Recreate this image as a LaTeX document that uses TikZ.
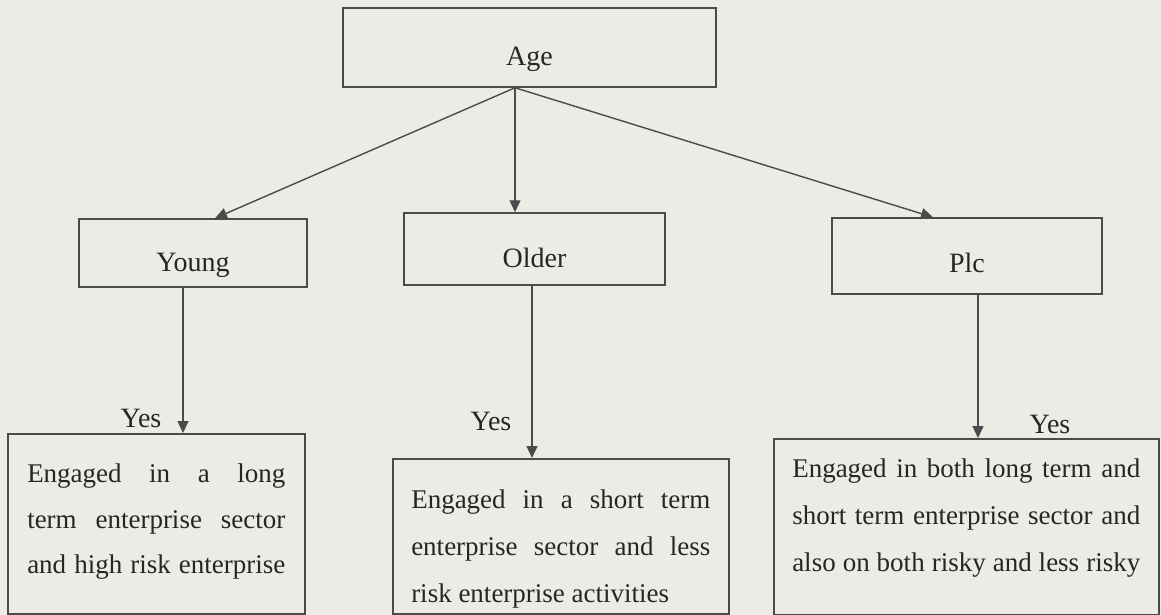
\documentclass[tikz,border=0pt]{standalone}
\usepackage{xcolor}
\usepackage{fontspec}
\setmainfont{Liberation Serif}
\usepackage{tikz}
\usetikzlibrary{arrows.meta,positioning}

\definecolor{paper}{RGB}{236,235,230}
\definecolor{ink}{RGB}{72,76,76}
\definecolor{txt}{RGB}{38,38,38}

% one justified line of a result box
\newcommand{\jline}[1]{\makebox[\linewidth][s]{#1}}

\begin{document}
\begin{tikzpicture}[
  x=1pt, y=-1pt,
  group/.style={
    rectangle,
    draw=ink,
    fill=paper,
    line width=1.5pt,
    inner sep=0pt,
    text=txt,
    text height=36pt,
    text depth=0pt,
    font=\fontsize{28}{33}\selectfont
  },
  result/.style={
    rectangle,
    draw=ink,
    fill=paper,
    line width=1.5pt,
    inner sep=0pt,
    anchor=north west,
    text=txt,
    font=\fontsize{27}{47}\selectfont
  },
  yes/.style={
    anchor=base,
    inner sep=0pt,
    text=txt,
    font=\fontsize{28}{33}\selectfont
  },
  arr/.style={
    draw=ink,
    line width=1.4pt,
    -{Triangle[length=12pt,width=11pt]}
  }
]

% --- PAGE ---
\fill[paper] (0,0) rectangle (1161,615);
\useasboundingbox (0,0) rectangle (1161,615);

% --- AGE (Top) ---
\node[group, minimum width=373pt, minimum height=79pt] (age) at (529.5,47.5) {Age};
\coordinate (fork) at ([xshift=-14.5pt]age.south);

% --- AGE GROUPS (Middle row) ---
\node[group, minimum width=228pt, minimum height=68pt] (young) at (193,253) {Young};
\node[group, minimum width=261pt, minimum height=72pt] (older) at (534.5,249) {Older};
\node[group, minimum width=270pt, minimum height=76pt, text height=32pt] (plc) at (967,256) {Plc};

\draw[arr] (fork) -- ([xshift=22pt]young.north);
\draw[arr] (fork) -- ([xshift=-19.5pt]older.north);
\draw[arr] (fork) -- ([xshift=-34pt]plc.north);

% --- RESULTS (Bottom row) ---
\node[result, minimum width=297pt, text height=49pt, text depth=131pt,
      font=\fontsize{27}{45.5}\selectfont] (res_young) at (7,433) {%
    \parbox[t]{258pt}{%
      \jline{Engaged in a long}\\
      \jline{term enterprise sector}\\
      \jline{and high risk enterprise}}};

\node[result, minimum width=336pt, text height=50pt, text depth=105pt] (res_older) at (392,458) {%
    \parbox[t]{299pt}{%
      \jline{Engaged in a short term}\\
      \jline{enterprise sector and less}\\
      risk enterprise activities}};

\node[result, minimum width=385pt, text height=39pt, text depth=137pt] (res_plc) at (773,438) {%
    \parbox[t]{348pt}{%
      \jline{Engaged in both long term and}\\
      \jline{short term enterprise sector and}\\
      \jline{also on both risky and less risky}}};

% --- LINKS ---
\draw[arr] ([xshift=-10pt]young.south) coordinate (ys) -- (ys |- res_young.north);
\draw[arr] ([xshift=-2.5pt]older.south) coordinate (os) -- (os |- res_older.north);
\draw[arr] ([xshift=11pt]plc.south) coordinate (ps) -- (ps |- res_plc.north);

\node[yes] (yes_young) at (141,427) {Yes};
\node[yes] (yes_older) at (491,430) {Yes};
\node[yes] (yes_plc) at (1050,433) {Yes};

\end{tikzpicture}
\end{document}
